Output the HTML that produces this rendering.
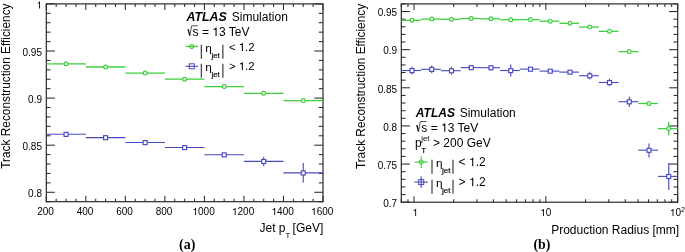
<!DOCTYPE html>
<html><head><meta charset="utf-8"><style>
html,body{margin:0;padding:0;background:#fff;}
svg{display:block;will-change:transform;}
text{font-family:"Liberation Sans",sans-serif;fill:#000;}
.h1{fill-opacity:0;}
</style></head><body>
<svg width="685" height="252" viewBox="0 0 685 252">
<rect x="46.3" y="3.9" width="276.70" height="197.80" fill="none" stroke="#222" stroke-width="1.15"/>
<rect x="401.3" y="3.9" width="276.40" height="198.30" fill="none" stroke="#222" stroke-width="1.15"/>
<line x1="46.30" y1="201.70" x2="50.50" y2="201.70" stroke="#2a2a2a" stroke-width="1.05"/>
<line x1="323.00" y1="201.70" x2="318.80" y2="201.70" stroke="#2a2a2a" stroke-width="1.05"/>
<line x1="46.30" y1="192.28" x2="54.90" y2="192.28" stroke="#2a2a2a" stroke-width="1.05"/>
<line x1="323.00" y1="192.28" x2="314.40" y2="192.28" stroke="#2a2a2a" stroke-width="1.05"/>
<line x1="46.30" y1="182.86" x2="50.50" y2="182.86" stroke="#2a2a2a" stroke-width="1.05"/>
<line x1="323.00" y1="182.86" x2="318.80" y2="182.86" stroke="#2a2a2a" stroke-width="1.05"/>
<line x1="46.30" y1="173.44" x2="50.50" y2="173.44" stroke="#2a2a2a" stroke-width="1.05"/>
<line x1="323.00" y1="173.44" x2="318.80" y2="173.44" stroke="#2a2a2a" stroke-width="1.05"/>
<line x1="46.30" y1="164.02" x2="50.50" y2="164.02" stroke="#2a2a2a" stroke-width="1.05"/>
<line x1="323.00" y1="164.02" x2="318.80" y2="164.02" stroke="#2a2a2a" stroke-width="1.05"/>
<line x1="46.30" y1="154.60" x2="50.50" y2="154.60" stroke="#2a2a2a" stroke-width="1.05"/>
<line x1="323.00" y1="154.60" x2="318.80" y2="154.60" stroke="#2a2a2a" stroke-width="1.05"/>
<line x1="46.30" y1="145.19" x2="54.90" y2="145.19" stroke="#2a2a2a" stroke-width="1.05"/>
<line x1="323.00" y1="145.19" x2="314.40" y2="145.19" stroke="#2a2a2a" stroke-width="1.05"/>
<line x1="46.30" y1="135.77" x2="50.50" y2="135.77" stroke="#2a2a2a" stroke-width="1.05"/>
<line x1="323.00" y1="135.77" x2="318.80" y2="135.77" stroke="#2a2a2a" stroke-width="1.05"/>
<line x1="46.30" y1="126.35" x2="50.50" y2="126.35" stroke="#2a2a2a" stroke-width="1.05"/>
<line x1="323.00" y1="126.35" x2="318.80" y2="126.35" stroke="#2a2a2a" stroke-width="1.05"/>
<line x1="46.30" y1="116.93" x2="50.50" y2="116.93" stroke="#2a2a2a" stroke-width="1.05"/>
<line x1="323.00" y1="116.93" x2="318.80" y2="116.93" stroke="#2a2a2a" stroke-width="1.05"/>
<line x1="46.30" y1="107.51" x2="50.50" y2="107.51" stroke="#2a2a2a" stroke-width="1.05"/>
<line x1="323.00" y1="107.51" x2="318.80" y2="107.51" stroke="#2a2a2a" stroke-width="1.05"/>
<line x1="46.30" y1="98.09" x2="54.90" y2="98.09" stroke="#2a2a2a" stroke-width="1.05"/>
<line x1="323.00" y1="98.09" x2="314.40" y2="98.09" stroke="#2a2a2a" stroke-width="1.05"/>
<line x1="46.30" y1="88.67" x2="50.50" y2="88.67" stroke="#2a2a2a" stroke-width="1.05"/>
<line x1="323.00" y1="88.67" x2="318.80" y2="88.67" stroke="#2a2a2a" stroke-width="1.05"/>
<line x1="46.30" y1="79.25" x2="50.50" y2="79.25" stroke="#2a2a2a" stroke-width="1.05"/>
<line x1="323.00" y1="79.25" x2="318.80" y2="79.25" stroke="#2a2a2a" stroke-width="1.05"/>
<line x1="46.30" y1="69.83" x2="50.50" y2="69.83" stroke="#2a2a2a" stroke-width="1.05"/>
<line x1="323.00" y1="69.83" x2="318.80" y2="69.83" stroke="#2a2a2a" stroke-width="1.05"/>
<line x1="46.30" y1="60.41" x2="50.50" y2="60.41" stroke="#2a2a2a" stroke-width="1.05"/>
<line x1="323.00" y1="60.41" x2="318.80" y2="60.41" stroke="#2a2a2a" stroke-width="1.05"/>
<line x1="46.30" y1="51.00" x2="54.90" y2="51.00" stroke="#2a2a2a" stroke-width="1.05"/>
<line x1="323.00" y1="51.00" x2="314.40" y2="51.00" stroke="#2a2a2a" stroke-width="1.05"/>
<line x1="46.30" y1="41.58" x2="50.50" y2="41.58" stroke="#2a2a2a" stroke-width="1.05"/>
<line x1="323.00" y1="41.58" x2="318.80" y2="41.58" stroke="#2a2a2a" stroke-width="1.05"/>
<line x1="46.30" y1="32.16" x2="50.50" y2="32.16" stroke="#2a2a2a" stroke-width="1.05"/>
<line x1="323.00" y1="32.16" x2="318.80" y2="32.16" stroke="#2a2a2a" stroke-width="1.05"/>
<line x1="46.30" y1="22.74" x2="50.50" y2="22.74" stroke="#2a2a2a" stroke-width="1.05"/>
<line x1="323.00" y1="22.74" x2="318.80" y2="22.74" stroke="#2a2a2a" stroke-width="1.05"/>
<line x1="46.30" y1="13.32" x2="50.50" y2="13.32" stroke="#2a2a2a" stroke-width="1.05"/>
<line x1="323.00" y1="13.32" x2="318.80" y2="13.32" stroke="#2a2a2a" stroke-width="1.05"/>
<line x1="46.30" y1="3.90" x2="54.90" y2="3.90" stroke="#2a2a2a" stroke-width="1.05"/>
<line x1="323.00" y1="3.90" x2="314.40" y2="3.90" stroke="#2a2a2a" stroke-width="1.05"/>
<line x1="46.30" y1="201.70" x2="46.30" y2="195.70" stroke="#2a2a2a" stroke-width="1.05"/>
<line x1="46.30" y1="3.90" x2="46.30" y2="9.90" stroke="#2a2a2a" stroke-width="1.05"/>
<line x1="56.18" y1="201.70" x2="56.18" y2="198.70" stroke="#2a2a2a" stroke-width="1.05"/>
<line x1="56.18" y1="3.90" x2="56.18" y2="6.90" stroke="#2a2a2a" stroke-width="1.05"/>
<line x1="66.06" y1="201.70" x2="66.06" y2="198.70" stroke="#2a2a2a" stroke-width="1.05"/>
<line x1="66.06" y1="3.90" x2="66.06" y2="6.90" stroke="#2a2a2a" stroke-width="1.05"/>
<line x1="75.95" y1="201.70" x2="75.95" y2="198.70" stroke="#2a2a2a" stroke-width="1.05"/>
<line x1="75.95" y1="3.90" x2="75.95" y2="6.90" stroke="#2a2a2a" stroke-width="1.05"/>
<line x1="85.83" y1="201.70" x2="85.83" y2="195.70" stroke="#2a2a2a" stroke-width="1.05"/>
<line x1="85.83" y1="3.90" x2="85.83" y2="9.90" stroke="#2a2a2a" stroke-width="1.05"/>
<line x1="95.71" y1="201.70" x2="95.71" y2="198.70" stroke="#2a2a2a" stroke-width="1.05"/>
<line x1="95.71" y1="3.90" x2="95.71" y2="6.90" stroke="#2a2a2a" stroke-width="1.05"/>
<line x1="105.59" y1="201.70" x2="105.59" y2="198.70" stroke="#2a2a2a" stroke-width="1.05"/>
<line x1="105.59" y1="3.90" x2="105.59" y2="6.90" stroke="#2a2a2a" stroke-width="1.05"/>
<line x1="115.47" y1="201.70" x2="115.47" y2="198.70" stroke="#2a2a2a" stroke-width="1.05"/>
<line x1="115.47" y1="3.90" x2="115.47" y2="6.90" stroke="#2a2a2a" stroke-width="1.05"/>
<line x1="125.36" y1="201.70" x2="125.36" y2="195.70" stroke="#2a2a2a" stroke-width="1.05"/>
<line x1="125.36" y1="3.90" x2="125.36" y2="9.90" stroke="#2a2a2a" stroke-width="1.05"/>
<line x1="135.24" y1="201.70" x2="135.24" y2="198.70" stroke="#2a2a2a" stroke-width="1.05"/>
<line x1="135.24" y1="3.90" x2="135.24" y2="6.90" stroke="#2a2a2a" stroke-width="1.05"/>
<line x1="145.12" y1="201.70" x2="145.12" y2="198.70" stroke="#2a2a2a" stroke-width="1.05"/>
<line x1="145.12" y1="3.90" x2="145.12" y2="6.90" stroke="#2a2a2a" stroke-width="1.05"/>
<line x1="155.00" y1="201.70" x2="155.00" y2="198.70" stroke="#2a2a2a" stroke-width="1.05"/>
<line x1="155.00" y1="3.90" x2="155.00" y2="6.90" stroke="#2a2a2a" stroke-width="1.05"/>
<line x1="164.89" y1="201.70" x2="164.89" y2="195.70" stroke="#2a2a2a" stroke-width="1.05"/>
<line x1="164.89" y1="3.90" x2="164.89" y2="9.90" stroke="#2a2a2a" stroke-width="1.05"/>
<line x1="174.77" y1="201.70" x2="174.77" y2="198.70" stroke="#2a2a2a" stroke-width="1.05"/>
<line x1="174.77" y1="3.90" x2="174.77" y2="6.90" stroke="#2a2a2a" stroke-width="1.05"/>
<line x1="184.65" y1="201.70" x2="184.65" y2="198.70" stroke="#2a2a2a" stroke-width="1.05"/>
<line x1="184.65" y1="3.90" x2="184.65" y2="6.90" stroke="#2a2a2a" stroke-width="1.05"/>
<line x1="194.53" y1="201.70" x2="194.53" y2="198.70" stroke="#2a2a2a" stroke-width="1.05"/>
<line x1="194.53" y1="3.90" x2="194.53" y2="6.90" stroke="#2a2a2a" stroke-width="1.05"/>
<line x1="204.41" y1="201.70" x2="204.41" y2="195.70" stroke="#2a2a2a" stroke-width="1.05"/>
<line x1="204.41" y1="3.90" x2="204.41" y2="9.90" stroke="#2a2a2a" stroke-width="1.05"/>
<line x1="214.30" y1="201.70" x2="214.30" y2="198.70" stroke="#2a2a2a" stroke-width="1.05"/>
<line x1="214.30" y1="3.90" x2="214.30" y2="6.90" stroke="#2a2a2a" stroke-width="1.05"/>
<line x1="224.18" y1="201.70" x2="224.18" y2="198.70" stroke="#2a2a2a" stroke-width="1.05"/>
<line x1="224.18" y1="3.90" x2="224.18" y2="6.90" stroke="#2a2a2a" stroke-width="1.05"/>
<line x1="234.06" y1="201.70" x2="234.06" y2="198.70" stroke="#2a2a2a" stroke-width="1.05"/>
<line x1="234.06" y1="3.90" x2="234.06" y2="6.90" stroke="#2a2a2a" stroke-width="1.05"/>
<line x1="243.94" y1="201.70" x2="243.94" y2="195.70" stroke="#2a2a2a" stroke-width="1.05"/>
<line x1="243.94" y1="3.90" x2="243.94" y2="9.90" stroke="#2a2a2a" stroke-width="1.05"/>
<line x1="253.82" y1="201.70" x2="253.82" y2="198.70" stroke="#2a2a2a" stroke-width="1.05"/>
<line x1="253.82" y1="3.90" x2="253.82" y2="6.90" stroke="#2a2a2a" stroke-width="1.05"/>
<line x1="263.71" y1="201.70" x2="263.71" y2="198.70" stroke="#2a2a2a" stroke-width="1.05"/>
<line x1="263.71" y1="3.90" x2="263.71" y2="6.90" stroke="#2a2a2a" stroke-width="1.05"/>
<line x1="273.59" y1="201.70" x2="273.59" y2="198.70" stroke="#2a2a2a" stroke-width="1.05"/>
<line x1="273.59" y1="3.90" x2="273.59" y2="6.90" stroke="#2a2a2a" stroke-width="1.05"/>
<line x1="283.47" y1="201.70" x2="283.47" y2="195.70" stroke="#2a2a2a" stroke-width="1.05"/>
<line x1="283.47" y1="3.90" x2="283.47" y2="9.90" stroke="#2a2a2a" stroke-width="1.05"/>
<line x1="293.35" y1="201.70" x2="293.35" y2="198.70" stroke="#2a2a2a" stroke-width="1.05"/>
<line x1="293.35" y1="3.90" x2="293.35" y2="6.90" stroke="#2a2a2a" stroke-width="1.05"/>
<line x1="303.24" y1="201.70" x2="303.24" y2="198.70" stroke="#2a2a2a" stroke-width="1.05"/>
<line x1="303.24" y1="3.90" x2="303.24" y2="6.90" stroke="#2a2a2a" stroke-width="1.05"/>
<line x1="313.12" y1="201.70" x2="313.12" y2="198.70" stroke="#2a2a2a" stroke-width="1.05"/>
<line x1="313.12" y1="3.90" x2="313.12" y2="6.90" stroke="#2a2a2a" stroke-width="1.05"/>
<line x1="323.00" y1="201.70" x2="323.00" y2="195.70" stroke="#2a2a2a" stroke-width="1.05"/>
<line x1="323.00" y1="3.90" x2="323.00" y2="9.90" stroke="#2a2a2a" stroke-width="1.05"/>
<line x1="401.30" y1="202.20" x2="409.90" y2="202.20" stroke="#2a2a2a" stroke-width="1.05"/>
<line x1="677.70" y1="202.20" x2="669.10" y2="202.20" stroke="#2a2a2a" stroke-width="1.05"/>
<line x1="401.30" y1="194.57" x2="405.50" y2="194.57" stroke="#2a2a2a" stroke-width="1.05"/>
<line x1="677.70" y1="194.57" x2="673.50" y2="194.57" stroke="#2a2a2a" stroke-width="1.05"/>
<line x1="401.30" y1="186.95" x2="405.50" y2="186.95" stroke="#2a2a2a" stroke-width="1.05"/>
<line x1="677.70" y1="186.95" x2="673.50" y2="186.95" stroke="#2a2a2a" stroke-width="1.05"/>
<line x1="401.30" y1="179.32" x2="405.50" y2="179.32" stroke="#2a2a2a" stroke-width="1.05"/>
<line x1="677.70" y1="179.32" x2="673.50" y2="179.32" stroke="#2a2a2a" stroke-width="1.05"/>
<line x1="401.30" y1="171.69" x2="405.50" y2="171.69" stroke="#2a2a2a" stroke-width="1.05"/>
<line x1="677.70" y1="171.69" x2="673.50" y2="171.69" stroke="#2a2a2a" stroke-width="1.05"/>
<line x1="401.30" y1="164.07" x2="409.90" y2="164.07" stroke="#2a2a2a" stroke-width="1.05"/>
<line x1="677.70" y1="164.07" x2="669.10" y2="164.07" stroke="#2a2a2a" stroke-width="1.05"/>
<line x1="401.30" y1="156.44" x2="405.50" y2="156.44" stroke="#2a2a2a" stroke-width="1.05"/>
<line x1="677.70" y1="156.44" x2="673.50" y2="156.44" stroke="#2a2a2a" stroke-width="1.05"/>
<line x1="401.30" y1="148.81" x2="405.50" y2="148.81" stroke="#2a2a2a" stroke-width="1.05"/>
<line x1="677.70" y1="148.81" x2="673.50" y2="148.81" stroke="#2a2a2a" stroke-width="1.05"/>
<line x1="401.30" y1="141.18" x2="405.50" y2="141.18" stroke="#2a2a2a" stroke-width="1.05"/>
<line x1="677.70" y1="141.18" x2="673.50" y2="141.18" stroke="#2a2a2a" stroke-width="1.05"/>
<line x1="401.30" y1="133.56" x2="405.50" y2="133.56" stroke="#2a2a2a" stroke-width="1.05"/>
<line x1="677.70" y1="133.56" x2="673.50" y2="133.56" stroke="#2a2a2a" stroke-width="1.05"/>
<line x1="401.30" y1="125.93" x2="409.90" y2="125.93" stroke="#2a2a2a" stroke-width="1.05"/>
<line x1="677.70" y1="125.93" x2="669.10" y2="125.93" stroke="#2a2a2a" stroke-width="1.05"/>
<line x1="401.30" y1="118.30" x2="405.50" y2="118.30" stroke="#2a2a2a" stroke-width="1.05"/>
<line x1="677.70" y1="118.30" x2="673.50" y2="118.30" stroke="#2a2a2a" stroke-width="1.05"/>
<line x1="401.30" y1="110.68" x2="405.50" y2="110.68" stroke="#2a2a2a" stroke-width="1.05"/>
<line x1="677.70" y1="110.68" x2="673.50" y2="110.68" stroke="#2a2a2a" stroke-width="1.05"/>
<line x1="401.30" y1="103.05" x2="405.50" y2="103.05" stroke="#2a2a2a" stroke-width="1.05"/>
<line x1="677.70" y1="103.05" x2="673.50" y2="103.05" stroke="#2a2a2a" stroke-width="1.05"/>
<line x1="401.30" y1="95.42" x2="405.50" y2="95.42" stroke="#2a2a2a" stroke-width="1.05"/>
<line x1="677.70" y1="95.42" x2="673.50" y2="95.42" stroke="#2a2a2a" stroke-width="1.05"/>
<line x1="401.30" y1="87.80" x2="409.90" y2="87.80" stroke="#2a2a2a" stroke-width="1.05"/>
<line x1="677.70" y1="87.80" x2="669.10" y2="87.80" stroke="#2a2a2a" stroke-width="1.05"/>
<line x1="401.30" y1="80.17" x2="405.50" y2="80.17" stroke="#2a2a2a" stroke-width="1.05"/>
<line x1="677.70" y1="80.17" x2="673.50" y2="80.17" stroke="#2a2a2a" stroke-width="1.05"/>
<line x1="401.30" y1="72.54" x2="405.50" y2="72.54" stroke="#2a2a2a" stroke-width="1.05"/>
<line x1="677.70" y1="72.54" x2="673.50" y2="72.54" stroke="#2a2a2a" stroke-width="1.05"/>
<line x1="401.30" y1="64.92" x2="405.50" y2="64.92" stroke="#2a2a2a" stroke-width="1.05"/>
<line x1="677.70" y1="64.92" x2="673.50" y2="64.92" stroke="#2a2a2a" stroke-width="1.05"/>
<line x1="401.30" y1="57.29" x2="405.50" y2="57.29" stroke="#2a2a2a" stroke-width="1.05"/>
<line x1="677.70" y1="57.29" x2="673.50" y2="57.29" stroke="#2a2a2a" stroke-width="1.05"/>
<line x1="401.30" y1="49.66" x2="409.90" y2="49.66" stroke="#2a2a2a" stroke-width="1.05"/>
<line x1="677.70" y1="49.66" x2="669.10" y2="49.66" stroke="#2a2a2a" stroke-width="1.05"/>
<line x1="401.30" y1="42.03" x2="405.50" y2="42.03" stroke="#2a2a2a" stroke-width="1.05"/>
<line x1="677.70" y1="42.03" x2="673.50" y2="42.03" stroke="#2a2a2a" stroke-width="1.05"/>
<line x1="401.30" y1="34.41" x2="405.50" y2="34.41" stroke="#2a2a2a" stroke-width="1.05"/>
<line x1="677.70" y1="34.41" x2="673.50" y2="34.41" stroke="#2a2a2a" stroke-width="1.05"/>
<line x1="401.30" y1="26.78" x2="405.50" y2="26.78" stroke="#2a2a2a" stroke-width="1.05"/>
<line x1="677.70" y1="26.78" x2="673.50" y2="26.78" stroke="#2a2a2a" stroke-width="1.05"/>
<line x1="401.30" y1="19.15" x2="405.50" y2="19.15" stroke="#2a2a2a" stroke-width="1.05"/>
<line x1="677.70" y1="19.15" x2="673.50" y2="19.15" stroke="#2a2a2a" stroke-width="1.05"/>
<line x1="401.30" y1="11.53" x2="409.90" y2="11.53" stroke="#2a2a2a" stroke-width="1.05"/>
<line x1="677.70" y1="11.53" x2="669.10" y2="11.53" stroke="#2a2a2a" stroke-width="1.05"/>
<line x1="401.30" y1="3.90" x2="405.50" y2="3.90" stroke="#2a2a2a" stroke-width="1.05"/>
<line x1="677.70" y1="3.90" x2="673.50" y2="3.90" stroke="#2a2a2a" stroke-width="1.05"/>
<line x1="401.22" y1="202.20" x2="401.22" y2="199.20" stroke="#2a2a2a" stroke-width="1.05"/>
<line x1="401.22" y1="3.90" x2="401.22" y2="6.90" stroke="#2a2a2a" stroke-width="1.05"/>
<line x1="407.97" y1="202.20" x2="407.97" y2="199.20" stroke="#2a2a2a" stroke-width="1.05"/>
<line x1="407.97" y1="3.90" x2="407.97" y2="6.90" stroke="#2a2a2a" stroke-width="1.05"/>
<line x1="414.00" y1="202.20" x2="414.00" y2="196.20" stroke="#2a2a2a" stroke-width="1.05"/>
<line x1="414.00" y1="3.90" x2="414.00" y2="9.90" stroke="#2a2a2a" stroke-width="1.05"/>
<line x1="453.69" y1="202.20" x2="453.69" y2="199.20" stroke="#2a2a2a" stroke-width="1.05"/>
<line x1="453.69" y1="3.90" x2="453.69" y2="6.90" stroke="#2a2a2a" stroke-width="1.05"/>
<line x1="476.91" y1="202.20" x2="476.91" y2="199.20" stroke="#2a2a2a" stroke-width="1.05"/>
<line x1="476.91" y1="3.90" x2="476.91" y2="6.90" stroke="#2a2a2a" stroke-width="1.05"/>
<line x1="493.38" y1="202.20" x2="493.38" y2="199.20" stroke="#2a2a2a" stroke-width="1.05"/>
<line x1="493.38" y1="3.90" x2="493.38" y2="6.90" stroke="#2a2a2a" stroke-width="1.05"/>
<line x1="506.16" y1="202.20" x2="506.16" y2="199.20" stroke="#2a2a2a" stroke-width="1.05"/>
<line x1="506.16" y1="3.90" x2="506.16" y2="6.90" stroke="#2a2a2a" stroke-width="1.05"/>
<line x1="516.60" y1="202.20" x2="516.60" y2="199.20" stroke="#2a2a2a" stroke-width="1.05"/>
<line x1="516.60" y1="3.90" x2="516.60" y2="6.90" stroke="#2a2a2a" stroke-width="1.05"/>
<line x1="525.43" y1="202.20" x2="525.43" y2="199.20" stroke="#2a2a2a" stroke-width="1.05"/>
<line x1="525.43" y1="3.90" x2="525.43" y2="6.90" stroke="#2a2a2a" stroke-width="1.05"/>
<line x1="533.07" y1="202.20" x2="533.07" y2="199.20" stroke="#2a2a2a" stroke-width="1.05"/>
<line x1="533.07" y1="3.90" x2="533.07" y2="6.90" stroke="#2a2a2a" stroke-width="1.05"/>
<line x1="539.82" y1="202.20" x2="539.82" y2="199.20" stroke="#2a2a2a" stroke-width="1.05"/>
<line x1="539.82" y1="3.90" x2="539.82" y2="6.90" stroke="#2a2a2a" stroke-width="1.05"/>
<line x1="545.85" y1="202.20" x2="545.85" y2="196.20" stroke="#2a2a2a" stroke-width="1.05"/>
<line x1="545.85" y1="3.90" x2="545.85" y2="9.90" stroke="#2a2a2a" stroke-width="1.05"/>
<line x1="585.54" y1="202.20" x2="585.54" y2="199.20" stroke="#2a2a2a" stroke-width="1.05"/>
<line x1="585.54" y1="3.90" x2="585.54" y2="6.90" stroke="#2a2a2a" stroke-width="1.05"/>
<line x1="608.76" y1="202.20" x2="608.76" y2="199.20" stroke="#2a2a2a" stroke-width="1.05"/>
<line x1="608.76" y1="3.90" x2="608.76" y2="6.90" stroke="#2a2a2a" stroke-width="1.05"/>
<line x1="625.23" y1="202.20" x2="625.23" y2="199.20" stroke="#2a2a2a" stroke-width="1.05"/>
<line x1="625.23" y1="3.90" x2="625.23" y2="6.90" stroke="#2a2a2a" stroke-width="1.05"/>
<line x1="638.01" y1="202.20" x2="638.01" y2="199.20" stroke="#2a2a2a" stroke-width="1.05"/>
<line x1="638.01" y1="3.90" x2="638.01" y2="6.90" stroke="#2a2a2a" stroke-width="1.05"/>
<line x1="648.45" y1="202.20" x2="648.45" y2="199.20" stroke="#2a2a2a" stroke-width="1.05"/>
<line x1="648.45" y1="3.90" x2="648.45" y2="6.90" stroke="#2a2a2a" stroke-width="1.05"/>
<line x1="657.28" y1="202.20" x2="657.28" y2="199.20" stroke="#2a2a2a" stroke-width="1.05"/>
<line x1="657.28" y1="3.90" x2="657.28" y2="6.90" stroke="#2a2a2a" stroke-width="1.05"/>
<line x1="664.92" y1="202.20" x2="664.92" y2="199.20" stroke="#2a2a2a" stroke-width="1.05"/>
<line x1="664.92" y1="3.90" x2="664.92" y2="6.90" stroke="#2a2a2a" stroke-width="1.05"/>
<line x1="671.67" y1="202.20" x2="671.67" y2="199.20" stroke="#2a2a2a" stroke-width="1.05"/>
<line x1="671.67" y1="3.90" x2="671.67" y2="6.90" stroke="#2a2a2a" stroke-width="1.05"/>
<line x1="677.70" y1="202.20" x2="677.70" y2="196.20" stroke="#2a2a2a" stroke-width="1.05"/>
<line x1="677.70" y1="3.90" x2="677.70" y2="9.90" stroke="#2a2a2a" stroke-width="1.05"/>
<text x="42.00" y="8.60" font-size="10.0" text-anchor="end" ><tspan class="h1">1</tspan></text>
<text x="42.00" y="55.70" font-size="10.0" text-anchor="end" >0.95</text>
<text x="42.00" y="102.79" font-size="10.0" text-anchor="end" >0.9</text>
<text x="42.00" y="149.89" font-size="10.0" text-anchor="end" >0.85</text>
<text x="42.00" y="196.98" font-size="10.0" text-anchor="end" >0.8</text>
<text x="45.50" y="215.00" font-size="10.0" text-anchor="middle" >200</text>
<text x="85.03" y="215.00" font-size="10.0" text-anchor="middle" >400</text>
<text x="124.56" y="215.00" font-size="10.0" text-anchor="middle" >600</text>
<text x="164.09" y="215.00" font-size="10.0" text-anchor="middle" >800</text>
<text x="203.61" y="215.00" font-size="10.0" text-anchor="middle" ><tspan class="h1">1</tspan>000</text>
<text x="243.14" y="215.00" font-size="10.0" text-anchor="middle" ><tspan class="h1">1</tspan>200</text>
<text x="282.67" y="215.00" font-size="10.0" text-anchor="middle" ><tspan class="h1">1</tspan>400</text>
<text x="322.20" y="215.00" font-size="10.0" text-anchor="middle" ><tspan class="h1">1</tspan>600</text>
<text x="397.20" y="16.23" font-size="10.0" text-anchor="end" >0.95</text>
<text x="397.20" y="54.36" font-size="10.0" text-anchor="end" >0.9</text>
<text x="397.20" y="92.50" font-size="10.0" text-anchor="end" >0.85</text>
<text x="397.20" y="130.63" font-size="10.0" text-anchor="end" >0.8</text>
<text x="397.20" y="168.77" font-size="10.0" text-anchor="end" >0.75</text>
<text x="397.20" y="206.90" font-size="10.0" text-anchor="end" >0.7</text>
<text x="415.30" y="216.00" font-size="10.0" text-anchor="middle" ><tspan class="h1">1</tspan></text>
<text x="545.85" y="216.00" font-size="10.0" text-anchor="middle" ><tspan class="h1">1</tspan>0</text>
<text x="677.40" y="216.00" font-size="10.0" text-anchor="middle" ><tspan class="h1">1</tspan>0<tspan dy="-4" font-size="7">2</tspan></text>
<text x="323.30" y="231.60" font-size="12.0" text-anchor="end" >Jet p<tspan dx="0" dy="6.2" font-size="7.8">T</tspan><tspan dx="-1.0" dy="-6.2"> [GeV]</tspan></text>
<text x="679.20" y="233.90" font-size="12.0" text-anchor="end" >Production Radius [mm]</text>
<text transform="translate(10,3.5) rotate(-90)" font-size="11.85" text-anchor="end">Track Reconstruction Efficiency</text>
<text transform="translate(364.6,3.9) rotate(-90)" font-size="11.85" text-anchor="end">Track Reconstruction Efficiency</text>
<text x="187.20" y="248.80" font-size="13.9" text-anchor="middle" style="font-family:Liberation Serif;font-weight:bold">(a)</text>
<text x="541.90" y="248.80" font-size="13.9" text-anchor="middle" style="font-family:Liberation Serif;font-weight:bold">(b)</text>
<line x1="46.30" y1="63.80" x2="85.83" y2="63.80" stroke="#3ccf3c" stroke-width="1.3"/>
<line x1="85.83" y1="67.00" x2="125.36" y2="67.00" stroke="#3ccf3c" stroke-width="1.3"/>
<line x1="125.36" y1="73.10" x2="164.89" y2="73.10" stroke="#3ccf3c" stroke-width="1.3"/>
<line x1="164.89" y1="79.20" x2="204.41" y2="79.20" stroke="#3ccf3c" stroke-width="1.3"/>
<line x1="204.41" y1="86.60" x2="243.94" y2="86.60" stroke="#3ccf3c" stroke-width="1.3"/>
<line x1="243.94" y1="93.30" x2="283.47" y2="93.30" stroke="#3ccf3c" stroke-width="1.3"/>
<line x1="283.47" y1="100.60" x2="323.00" y2="100.60" stroke="#3ccf3c" stroke-width="1.3"/>
<circle cx="66.06" cy="63.80" r="1.9" fill="#fff" stroke="#3ccf3c" stroke-width="1.2"/>
<circle cx="105.59" cy="67.00" r="1.9" fill="#fff" stroke="#3ccf3c" stroke-width="1.2"/>
<circle cx="145.12" cy="73.10" r="1.9" fill="#fff" stroke="#3ccf3c" stroke-width="1.2"/>
<circle cx="184.65" cy="79.20" r="1.9" fill="#fff" stroke="#3ccf3c" stroke-width="1.2"/>
<circle cx="224.18" cy="86.60" r="1.9" fill="#fff" stroke="#3ccf3c" stroke-width="1.2"/>
<circle cx="263.71" cy="93.30" r="1.9" fill="#fff" stroke="#3ccf3c" stroke-width="1.2"/>
<circle cx="303.24" cy="100.60" r="1.9" fill="#fff" stroke="#3ccf3c" stroke-width="1.2"/>
<line x1="46.30" y1="134.30" x2="85.83" y2="134.30" stroke="#4848c0" stroke-width="1.12"/>
<line x1="85.83" y1="137.60" x2="125.36" y2="137.60" stroke="#4848c0" stroke-width="1.12"/>
<line x1="125.36" y1="142.50" x2="164.89" y2="142.50" stroke="#4848c0" stroke-width="1.12"/>
<line x1="164.89" y1="147.50" x2="204.41" y2="147.50" stroke="#4848c0" stroke-width="1.12"/>
<line x1="204.41" y1="154.80" x2="243.94" y2="154.80" stroke="#4848c0" stroke-width="1.12"/>
<line x1="243.94" y1="161.40" x2="283.47" y2="161.40" stroke="#4848c0" stroke-width="1.12"/>
<line x1="263.71" y1="156.70" x2="263.71" y2="166.20" stroke="#4848c0" stroke-width="1.12"/>
<line x1="283.47" y1="172.90" x2="323.00" y2="172.90" stroke="#4848c0" stroke-width="1.12"/>
<line x1="303.24" y1="162.90" x2="303.24" y2="182.40" stroke="#4848c0" stroke-width="1.12"/>
<rect x="64.06" y="132.40" width="4.0" height="4.0" fill="#fff" stroke="#4848c0" stroke-width="1.15"/>
<rect x="103.59" y="135.70" width="4.0" height="4.0" fill="#fff" stroke="#4848c0" stroke-width="1.15"/>
<rect x="143.12" y="140.60" width="4.0" height="4.0" fill="#fff" stroke="#4848c0" stroke-width="1.15"/>
<rect x="182.65" y="145.60" width="4.0" height="4.0" fill="#fff" stroke="#4848c0" stroke-width="1.15"/>
<rect x="222.18" y="152.90" width="4.0" height="4.0" fill="#fff" stroke="#4848c0" stroke-width="1.15"/>
<rect x="261.71" y="159.50" width="4.0" height="4.0" fill="#fff" stroke="#4848c0" stroke-width="1.15"/>
<rect x="301.24" y="171.00" width="4.0" height="4.0" fill="#fff" stroke="#4848c0" stroke-width="1.15"/>
<line x1="401.30" y1="70.50" x2="421.05" y2="70.50" stroke="#4848c0" stroke-width="1.12"/>
<line x1="412.00" y1="66.60" x2="412.00" y2="74.40" stroke="#4848c0" stroke-width="1.12"/>
<line x1="421.05" y1="69.30" x2="440.80" y2="69.30" stroke="#4848c0" stroke-width="1.12"/>
<line x1="431.75" y1="65.40" x2="431.75" y2="73.20" stroke="#4848c0" stroke-width="1.12"/>
<line x1="440.80" y1="70.70" x2="460.55" y2="70.70" stroke="#4848c0" stroke-width="1.12"/>
<line x1="451.50" y1="66.80" x2="451.50" y2="74.60" stroke="#4848c0" stroke-width="1.12"/>
<line x1="460.55" y1="67.60" x2="480.30" y2="67.60" stroke="#4848c0" stroke-width="1.12"/>
<line x1="480.30" y1="67.70" x2="500.05" y2="67.70" stroke="#4848c0" stroke-width="1.12"/>
<line x1="500.05" y1="70.50" x2="519.80" y2="70.50" stroke="#4848c0" stroke-width="1.12"/>
<line x1="510.75" y1="64.40" x2="510.75" y2="76.40" stroke="#4848c0" stroke-width="1.12"/>
<line x1="519.80" y1="69.10" x2="539.55" y2="69.10" stroke="#4848c0" stroke-width="1.12"/>
<line x1="539.55" y1="71.10" x2="559.30" y2="71.10" stroke="#4848c0" stroke-width="1.12"/>
<line x1="559.30" y1="72.10" x2="579.05" y2="72.10" stroke="#4848c0" stroke-width="1.12"/>
<line x1="579.05" y1="75.70" x2="598.80" y2="75.70" stroke="#4848c0" stroke-width="1.12"/>
<line x1="589.75" y1="71.80" x2="589.75" y2="79.60" stroke="#4848c0" stroke-width="1.12"/>
<line x1="598.80" y1="82.50" x2="618.55" y2="82.50" stroke="#4848c0" stroke-width="1.12"/>
<line x1="609.50" y1="78.70" x2="609.50" y2="86.20" stroke="#4848c0" stroke-width="1.12"/>
<line x1="618.55" y1="101.70" x2="638.30" y2="101.70" stroke="#4848c0" stroke-width="1.12"/>
<line x1="629.25" y1="96.70" x2="629.25" y2="107.00" stroke="#4848c0" stroke-width="1.12"/>
<line x1="638.30" y1="150.20" x2="658.05" y2="150.20" stroke="#4848c0" stroke-width="1.12"/>
<line x1="649.00" y1="143.60" x2="649.00" y2="157.40" stroke="#4848c0" stroke-width="1.12"/>
<line x1="658.05" y1="176.40" x2="677.70" y2="176.40" stroke="#4848c0" stroke-width="1.12"/>
<line x1="668.75" y1="163.00" x2="668.75" y2="190.00" stroke="#4848c0" stroke-width="1.12"/>
<rect x="410.00" y="68.60" width="4.0" height="4.0" fill="#fff" stroke="#4848c0" stroke-width="1.15"/>
<rect x="429.75" y="67.40" width="4.0" height="4.0" fill="#fff" stroke="#4848c0" stroke-width="1.15"/>
<rect x="449.50" y="68.80" width="4.0" height="4.0" fill="#fff" stroke="#4848c0" stroke-width="1.15"/>
<rect x="469.25" y="65.70" width="4.0" height="4.0" fill="#fff" stroke="#4848c0" stroke-width="1.15"/>
<rect x="489.00" y="65.80" width="4.0" height="4.0" fill="#fff" stroke="#4848c0" stroke-width="1.15"/>
<rect x="508.75" y="68.60" width="4.0" height="4.0" fill="#fff" stroke="#4848c0" stroke-width="1.15"/>
<rect x="528.50" y="67.20" width="4.0" height="4.0" fill="#fff" stroke="#4848c0" stroke-width="1.15"/>
<rect x="548.25" y="69.20" width="4.0" height="4.0" fill="#fff" stroke="#4848c0" stroke-width="1.15"/>
<rect x="568.00" y="70.20" width="4.0" height="4.0" fill="#fff" stroke="#4848c0" stroke-width="1.15"/>
<rect x="587.75" y="73.80" width="4.0" height="4.0" fill="#fff" stroke="#4848c0" stroke-width="1.15"/>
<rect x="607.50" y="80.60" width="4.0" height="4.0" fill="#fff" stroke="#4848c0" stroke-width="1.15"/>
<rect x="627.25" y="99.80" width="4.0" height="4.0" fill="#fff" stroke="#4848c0" stroke-width="1.15"/>
<rect x="647.00" y="148.30" width="4.0" height="4.0" fill="#fff" stroke="#4848c0" stroke-width="1.15"/>
<rect x="666.75" y="174.50" width="4.0" height="4.0" fill="#fff" stroke="#4848c0" stroke-width="1.15"/>
<line x1="401.30" y1="20.30" x2="421.05" y2="20.30" stroke="#3ccf3c" stroke-width="1.3"/>
<line x1="421.05" y1="19.10" x2="440.80" y2="19.10" stroke="#3ccf3c" stroke-width="1.3"/>
<line x1="440.80" y1="19.30" x2="460.55" y2="19.30" stroke="#3ccf3c" stroke-width="1.3"/>
<line x1="460.55" y1="18.50" x2="480.30" y2="18.50" stroke="#3ccf3c" stroke-width="1.3"/>
<line x1="480.30" y1="18.80" x2="500.05" y2="18.80" stroke="#3ccf3c" stroke-width="1.3"/>
<line x1="500.05" y1="19.80" x2="519.80" y2="19.80" stroke="#3ccf3c" stroke-width="1.3"/>
<line x1="519.80" y1="19.60" x2="539.55" y2="19.60" stroke="#3ccf3c" stroke-width="1.3"/>
<line x1="539.55" y1="21.20" x2="559.30" y2="21.20" stroke="#3ccf3c" stroke-width="1.3"/>
<line x1="559.30" y1="23.30" x2="579.05" y2="23.30" stroke="#3ccf3c" stroke-width="1.3"/>
<line x1="579.05" y1="27.10" x2="598.80" y2="27.10" stroke="#3ccf3c" stroke-width="1.3"/>
<line x1="598.80" y1="31.30" x2="618.55" y2="31.30" stroke="#3ccf3c" stroke-width="1.3"/>
<line x1="618.55" y1="51.60" x2="638.30" y2="51.60" stroke="#3ccf3c" stroke-width="1.3"/>
<line x1="638.30" y1="103.50" x2="658.05" y2="103.50" stroke="#3ccf3c" stroke-width="1.3"/>
<line x1="658.05" y1="128.60" x2="677.70" y2="128.60" stroke="#3ccf3c" stroke-width="1.3"/>
<line x1="668.75" y1="121.90" x2="668.75" y2="135.40" stroke="#3ccf3c" stroke-width="1.3"/>
<circle cx="412.00" cy="20.30" r="1.9" fill="#fff" stroke="#3ccf3c" stroke-width="1.2"/>
<circle cx="431.75" cy="19.10" r="1.9" fill="#fff" stroke="#3ccf3c" stroke-width="1.2"/>
<circle cx="451.50" cy="19.30" r="1.9" fill="#fff" stroke="#3ccf3c" stroke-width="1.2"/>
<circle cx="471.25" cy="18.50" r="1.9" fill="#fff" stroke="#3ccf3c" stroke-width="1.2"/>
<circle cx="491.00" cy="18.80" r="1.9" fill="#fff" stroke="#3ccf3c" stroke-width="1.2"/>
<circle cx="510.75" cy="19.80" r="1.9" fill="#fff" stroke="#3ccf3c" stroke-width="1.2"/>
<circle cx="530.50" cy="19.60" r="1.9" fill="#fff" stroke="#3ccf3c" stroke-width="1.2"/>
<circle cx="550.25" cy="21.20" r="1.9" fill="#fff" stroke="#3ccf3c" stroke-width="1.2"/>
<circle cx="570.00" cy="23.30" r="1.9" fill="#fff" stroke="#3ccf3c" stroke-width="1.2"/>
<circle cx="589.75" cy="27.10" r="1.9" fill="#fff" stroke="#3ccf3c" stroke-width="1.2"/>
<circle cx="609.50" cy="31.30" r="1.9" fill="#fff" stroke="#3ccf3c" stroke-width="1.2"/>
<circle cx="629.25" cy="51.60" r="1.9" fill="#fff" stroke="#3ccf3c" stroke-width="1.2"/>
<circle cx="649.00" cy="103.50" r="1.9" fill="#fff" stroke="#3ccf3c" stroke-width="1.2"/>
<circle cx="668.75" cy="128.60" r="1.9" fill="#fff" stroke="#3ccf3c" stroke-width="1.2"/>
<text x="186.40" y="20.80" font-size="12.0" text-anchor="start" ><tspan font-weight="bold" font-style="italic" font-size="12.4">ATLAS</tspan><tspan dx="5">Simulation</tspan></text>
<path d="M188.10,29.20 L189.80,35.70" fill="none" stroke="#111" stroke-width="1.35"/>
<path d="M189.80,35.70 L191.60,25.80 L197.90,25.80" fill="none" stroke="#222" stroke-width="0.8"/>
<text x="192.60" y="36.00" font-size="12.0" text-anchor="start" >s = <tspan class="h1">1</tspan>3 TeV</text>
<line x1="201.30" y1="44.70" x2="201.30" y2="58.70" stroke="#222" stroke-width="1.05"/>
<text x="205.20" y="52.00" font-size="11.8" text-anchor="start" >η</text>
<text x="211.40" y="58.10" font-size="7.9" text-anchor="start" stroke="#000" stroke-width="0.2">jet</text>
<line x1="222.90" y1="44.70" x2="222.90" y2="58.70" stroke="#222" stroke-width="1.05"/>
<text x="228.90" y="51.10" font-size="11.4" text-anchor="start" >&lt; <tspan class="h1">1</tspan>.2</text>
<line x1="201.30" y1="63.80" x2="201.30" y2="77.80" stroke="#222" stroke-width="1.05"/>
<text x="205.20" y="71.10" font-size="11.8" text-anchor="start" >η</text>
<text x="211.40" y="77.20" font-size="7.9" text-anchor="start" stroke="#000" stroke-width="0.2">jet</text>
<line x1="222.90" y1="63.80" x2="222.90" y2="77.80" stroke="#222" stroke-width="1.05"/>
<text x="228.90" y="70.20" font-size="11.4" text-anchor="start" >&gt; <tspan class="h1">1</tspan>.2</text>
<line x1="185.60" y1="46.40" x2="198.10" y2="46.40" stroke="#3ccf3c" stroke-width="1.3"/>
<circle cx="191.80" cy="46.40" r="1.9" fill="none" stroke="#3ccf3c" stroke-width="1.2"/>
<line x1="185.60" y1="66.30" x2="198.10" y2="66.30" stroke="#4848c0" stroke-width="1.1"/>
<rect x="189.3" y="63.8" width="5" height="5" fill="none" stroke="#4848c0" stroke-width="1"/>
<text x="415.80" y="116.70" font-size="12.0" text-anchor="start" ><tspan font-weight="bold" font-style="italic" font-size="12.0">ATLAS</tspan><tspan dx="4.8">Simulation</tspan></text>
<path d="M416.80,125.00 L418.50,131.50" fill="none" stroke="#111" stroke-width="1.35"/>
<path d="M418.50,131.50 L420.30,121.60 L426.60,121.60" fill="none" stroke="#222" stroke-width="0.8"/>
<text x="421.30" y="131.80" font-size="12.0" text-anchor="start" >s = <tspan class="h1">1</tspan>3 TeV</text>
<text x="415.00" y="146.80" font-size="12.0" text-anchor="start" >p</text>
<text x="421.30" y="141.00" font-size="7.8" text-anchor="start" >jet</text>
<text x="421.20" y="152.70" font-size="8.0" text-anchor="start" stroke="#000" stroke-width="0.2">T</text>
<text x="433.00" y="146.80" font-size="12.0" text-anchor="start" >&gt; 200 GeV</text>
<line x1="432.00" y1="159.80" x2="432.00" y2="173.80" stroke="#222" stroke-width="1.05"/>
<text x="435.90" y="167.10" font-size="11.8" text-anchor="start" >η</text>
<text x="442.10" y="173.20" font-size="7.9" text-anchor="start" stroke="#000" stroke-width="0.2">jet</text>
<line x1="453.00" y1="159.80" x2="453.00" y2="173.80" stroke="#222" stroke-width="1.05"/>
<text x="458.60" y="166.20" font-size="12.0" text-anchor="start" >&lt; <tspan class="h1">1</tspan>.2</text>
<line x1="432.00" y1="179.80" x2="432.00" y2="193.80" stroke="#222" stroke-width="1.05"/>
<text x="435.90" y="187.10" font-size="11.8" text-anchor="start" >η</text>
<text x="442.10" y="193.20" font-size="7.9" text-anchor="start" stroke="#000" stroke-width="0.2">jet</text>
<line x1="453.00" y1="179.80" x2="453.00" y2="193.80" stroke="#222" stroke-width="1.05"/>
<text x="458.60" y="186.20" font-size="12.0" text-anchor="start" >&gt; <tspan class="h1">1</tspan>.2</text>
<line x1="414.50" y1="162.10" x2="427.90" y2="162.10" stroke="#3ccf3c" stroke-width="1.1"/>
<line x1="421.20" y1="156.30" x2="421.20" y2="167.90" stroke="#3ccf3c" stroke-width="1.1"/>
<circle cx="421.2" cy="162.1" r="2.2" fill="none" stroke="#3ccf3c" stroke-width="1.0"/>
<line x1="414.50" y1="182.10" x2="427.90" y2="182.10" stroke="#4848c0" stroke-width="1.1"/>
<line x1="421.20" y1="176.30" x2="421.20" y2="187.90" stroke="#4848c0" stroke-width="1.1"/>
<rect x="418.7" y="179.6" width="5" height="5" fill="none" stroke="#4848c0" stroke-width="1"/>
<path transform="translate(36.438,8.600) scale(0.01000,-0.01000)" d="M271,0 L359,0 L359,703 L287,703 C279,665 262,640 230,622 C200,606 160,598 101,596 L101,530 L271,530 Z" fill="#000"/>
<path transform="translate(192.485,215.000) scale(0.01000,-0.01000)" d="M271,0 L359,0 L359,703 L287,703 C279,665 262,640 230,622 C200,606 160,598 101,596 L101,530 L271,530 Z" fill="#000"/>
<path transform="translate(232.015,215.000) scale(0.01000,-0.01000)" d="M271,0 L359,0 L359,703 L287,703 C279,665 262,640 230,622 C200,606 160,598 101,596 L101,530 L271,530 Z" fill="#000"/>
<path transform="translate(271.545,215.000) scale(0.01000,-0.01000)" d="M271,0 L359,0 L359,703 L287,703 C279,665 262,640 230,622 C200,606 160,598 101,596 L101,530 L271,530 Z" fill="#000"/>
<path transform="translate(311.075,215.000) scale(0.01000,-0.01000)" d="M271,0 L359,0 L359,703 L287,703 C279,665 262,640 230,622 C200,606 160,598 101,596 L101,530 L271,530 Z" fill="#000"/>
<path transform="translate(412.519,216.000) scale(0.01000,-0.01000)" d="M271,0 L359,0 L359,703 L287,703 C279,665 262,640 230,622 C200,606 160,598 101,596 L101,530 L271,530 Z" fill="#000"/>
<path transform="translate(540.287,216.000) scale(0.01000,-0.01000)" d="M271,0 L359,0 L359,703 L287,703 C279,665 262,640 230,622 C200,606 160,598 101,596 L101,530 L271,530 Z" fill="#000"/>
<path transform="translate(669.884,216.000) scale(0.01000,-0.01000)" d="M271,0 L359,0 L359,703 L287,703 C279,665 262,640 230,622 C200,606 160,598 101,596 L101,530 L271,530 Z" fill="#000"/>
<path transform="translate(212.288,36.000) scale(0.01200,-0.01200)" d="M271,0 L359,0 L359,703 L287,703 C279,665 262,640 230,622 C200,606 160,598 101,596 L101,530 L271,530 Z" fill="#000"/>
<path transform="translate(238.728,51.100) scale(0.01140,-0.01140)" d="M271,0 L359,0 L359,703 L287,703 C279,665 262,640 230,622 C200,606 160,598 101,596 L101,530 L271,530 Z" fill="#000"/>
<path transform="translate(238.728,70.200) scale(0.01140,-0.01140)" d="M271,0 L359,0 L359,703 L287,703 C279,665 262,640 230,622 C200,606 160,598 101,596 L101,530 L271,530 Z" fill="#000"/>
<path transform="translate(440.987,131.800) scale(0.01200,-0.01200)" d="M271,0 L359,0 L359,703 L287,703 C279,665 262,640 230,622 C200,606 160,598 101,596 L101,530 L271,530 Z" fill="#000"/>
<path transform="translate(468.944,166.200) scale(0.01200,-0.01200)" d="M271,0 L359,0 L359,703 L287,703 C279,665 262,640 230,622 C200,606 160,598 101,596 L101,530 L271,530 Z" fill="#000"/>
<path transform="translate(468.944,186.200) scale(0.01200,-0.01200)" d="M271,0 L359,0 L359,703 L287,703 C279,665 262,640 230,622 C200,606 160,598 101,596 L101,530 L271,530 Z" fill="#000"/>
</svg>
</body></html>
